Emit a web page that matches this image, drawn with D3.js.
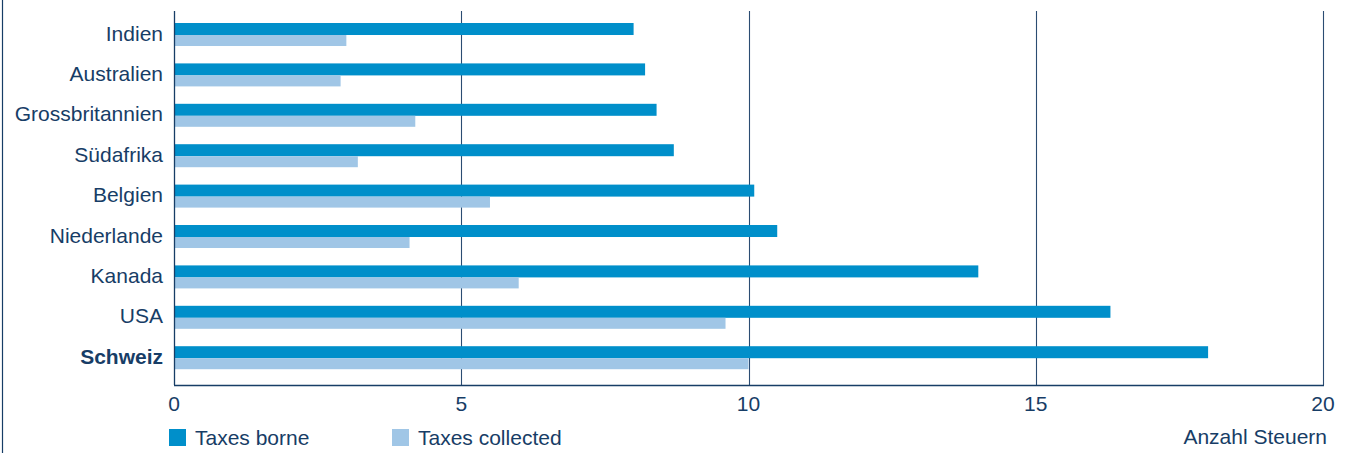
<!DOCTYPE html>
<html>
<head>
<meta charset="utf-8">
<script src="https://cdn.jsdelivr.net/npm/d3@7/dist/d3.min.js"></script>
<style>
  html, body { margin: 0; padding: 0; background: #fff; }
  svg { display: block; font-family: "Liberation Sans", Arial, Helvetica, sans-serif; }
</style>
</head>
<body>
<svg id="chart" width="1357" height="453"></svg>
<script>
// Number of taxes per country
const countries = ["Indien", "Australien", "Grossbritannien", "Südafrika", "Belgien",
                   "Niederlande", "Kanada", "USA", "Schweiz"];
const taxesBorne     = [8.0, 8.2, 8.4, 8.7, 10.1, 10.5, 14.0, 16.3, 18.0];
const taxesCollected = [3.0, 2.9, 4.2, 3.2, 5.5, 4.1, 6.0, 9.6, 10.0];
const xTicks = [0, 5, 10, 15, 20];
const seriesNames = ["Taxes borne", "Taxes collected"];
const axisTitle = "Anzahl Steuern";
const highlight = "Schweiz";

const navy = "#173d66";
const colBorne = "#008fca";
const colCollected = "#a0c6e6";
const fontSize = "21px";

const svg = d3.select("#chart");

const plotLeft = 174, plotRight = 1323, plotTop = 11, plotBottom = 385;

const x = d3.scaleLinear().domain([0, 20]).range([plotLeft, plotRight]);
const y = d3.scaleBand().domain(countries).range([14.3, 377.9])
  .paddingInner(0.431).paddingOuter(0.2155);
const sub = d3.scaleBand().domain(seriesNames).range([0, y.bandwidth()]);

// frame line on the left edge
svg.append("line").attr("x1", 2.5).attr("x2", 2.5).attr("y1", 0).attr("y2", 453)
  .attr("stroke", navy).attr("stroke-width", 1.2);

// vertical gridlines
svg.append("g").selectAll("line").data(xTicks.slice(1)).join("line")
  .attr("x1", d => Math.round(x(d)) + 0.5).attr("x2", d => Math.round(x(d)) + 0.5)
  .attr("y1", plotTop).attr("y2", plotBottom)
  .attr("stroke", "#2b4c72").attr("stroke-width", 1.1);

// bars: borne on top, collected below within each country band
const rows = countries.map((c, i) => ({ c, borne: taxesBorne[i], collected: taxesCollected[i] }));
const g = svg.append("g");
g.selectAll("rect.borne").data(rows).join("rect").attr("class", "borne")
  .attr("x", x(0)).attr("y", d => y(d.c) + sub(seriesNames[0]))
  .attr("width", d => x(d.borne) - x(0)).attr("height", 12)
  .attr("fill", colBorne);
g.selectAll("rect.collected").data(rows).join("rect").attr("class", "collected")
  .attr("x", x(0)).attr("y", d => y(d.c) + 12)
  .attr("width", d => x(d.collected) - x(0)).attr("height", 11)
  .attr("fill", colCollected);

// axis lines
svg.append("line").attr("x1", plotLeft + 0.5).attr("x2", plotLeft + 0.5)
  .attr("y1", plotTop).attr("y2", plotBottom).attr("stroke", navy).attr("stroke-width", 1.3);
svg.append("line").attr("x1", plotLeft).attr("x2", plotRight + 1)
  .attr("y1", plotBottom + 0.5).attr("y2", plotBottom + 0.5).attr("stroke", navy).attr("stroke-width", 1.3);

// category labels
svg.append("g").selectAll("text").data(countries).join("text")
  .attr("x", 163).attr("y", d => y(d) + y.bandwidth() / 2 + 6)
  .attr("text-anchor", "end").attr("font-size", fontSize)
  .attr("font-weight", d => d === highlight ? "bold" : "normal")
  .attr("fill", navy).text(d => d);

// x tick labels
svg.append("g").selectAll("text").data(xTicks).join("text")
  .attr("x", d => x(d)).attr("y", 411).attr("text-anchor", "middle")
  .attr("font-size", fontSize).attr("fill", navy).text(d => d);

// legend
const legendPos = [169, 392];
const legendCols = [colBorne, colCollected];
const lg = svg.append("g").selectAll("g").data(seriesNames).join("g")
  .attr("transform", (d, i) => `translate(${legendPos[i]},429)`);
lg.append("rect").attr("width", 17).attr("height", 17).attr("fill", (d, i) => legendCols[i]);
lg.append("text").attr("x", 26).attr("y", 15.5).attr("font-size", fontSize)
  .attr("fill", navy).text(d => d);

// axis title
svg.append("text").attr("x", 1327).attr("y", 444).attr("text-anchor", "end")
  .attr("font-size", fontSize).attr("fill", navy).text(axisTitle);
</script>
</body>
</html>
